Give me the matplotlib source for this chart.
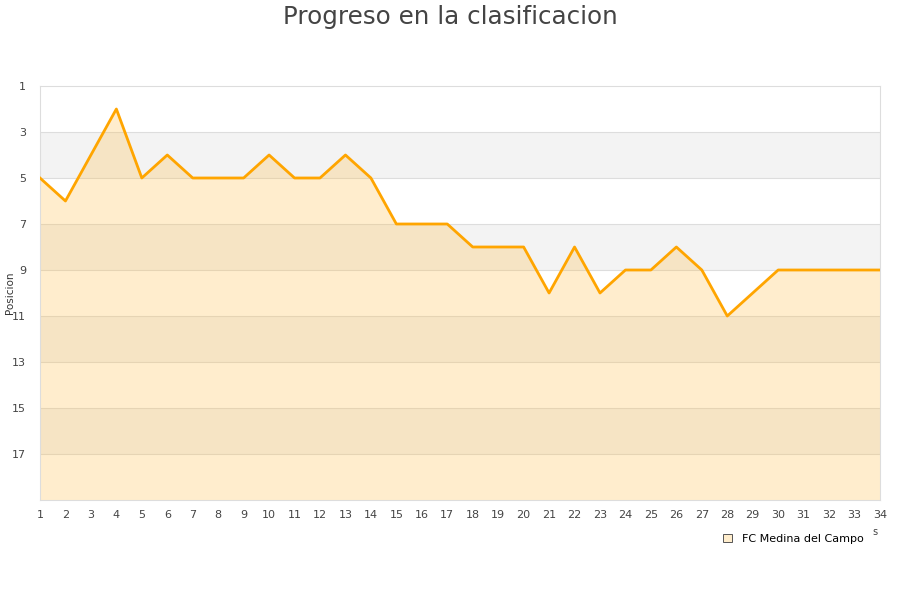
import matplotlib
matplotlib.use("Agg")
import matplotlib.pyplot as plt
from matplotlib.patches import Patch

rounds = list(range(1, 35))
positions = [5, 6, 4, 2, 5, 4, 5, 5, 5, 4, 5, 5, 4, 5, 7, 7, 7, 8, 8, 8,
             10, 8, 10, 9, 9, 8, 9, 11, 10, 9, 9, 9, 9, 9]
yticks = [1, 3, 5, 7, 9, 11, 13, 15, 17]
team = "FC Medina del Campo"
title = "Progreso en la clasificacion"
ylabel = "Posicion"

fig = plt.figure(figsize=(9, 6), dpi=100)
ax = fig.add_axes([40/900, 1-500/600, 840/900, 414/600])

ymin, ymax = 1, 19
# alternating bands
for i, lo in enumerate(range(ymin, ymax, 2)):
    if i % 2 == 1:
        ax.axhspan(lo, lo + 2, color="#f3f3f3", zorder=0, lw=0)
for y in yticks[1:]:
    ax.axhline(y, color="#dddddd", lw=0.8, zorder=1)

ax.fill_between(rounds, positions, ymax, color="#ffc04d", alpha=0.28, lw=0, zorder=2)
ax.plot(rounds, positions, color="#ffa500", lw=2.0, zorder=3)

ax.set_xlim(1, 34)
ax.set_ylim(ymax, ymin)
ax.set_xticks(rounds)
ax.set_yticks(yticks)
ax.tick_params(axis="both", length=0, labelsize=8, colors="#444444", pad=7)
ax.tick_params(axis="y", pad=10)
for s in ax.spines.values():
    s.set_color("#dddddd")
    s.set_linewidth(0.8)

fig.text(10/900, 1-293/600, ylabel, rotation=90, ha="center", va="center", fontsize=7.5, color="#333333")
fig.text(0.5, 1-17/600, title, ha="center", va="center", fontsize=17.7, color="#444444")
fig.text(875/900, 1-532/600, "s", ha="center", va="center", fontsize=7, color="#444444")

handle = Patch(facecolor="#ffedcc", edgecolor="#555555", lw=0.7)
fig.legend([handle], [team], loc="center", bbox_to_anchor=(793/900, 1-539/600),
           frameon=False, fontsize=8, handlelength=0.8, handleheight=0.8, handletextpad=0.9)

fig.savefig("out.png", dpi=100, facecolor="white")
